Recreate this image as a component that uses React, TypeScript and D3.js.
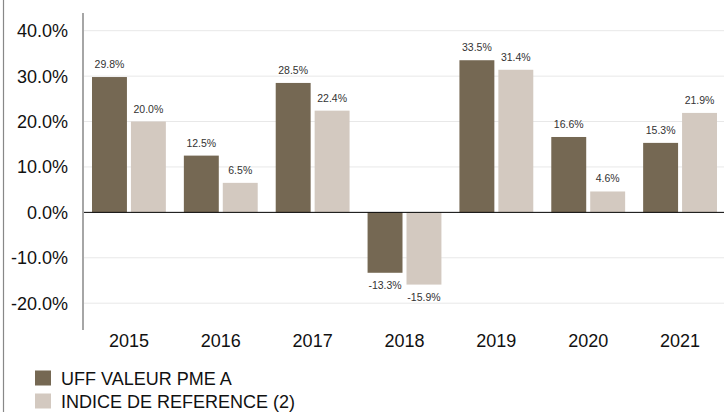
import React from "react";
import * as d3 from "d3";

const years = ["2015", "2016", "2017", "2018", "2019", "2020", "2021"];
const fundValues = [29.8, 12.5, 28.5, -13.3, 33.5, 16.6, 15.3];
const indexValues = [20.0, 6.5, 22.4, -15.9, 31.4, 4.6, 21.9];
const seriesNames = ["UFF VALEUR PME A", "INDICE DE REFERENCE (2)"];
const seriesColors = ["#756853", "#d3c9c0"];
const yTicks = [-20, -10, 0, 10, 20, 30, 40];

const W = 724;
const H = 412;
const FONT = "'Liberation Sans', Arial, sans-serif";

export default function App() {
  const y = d3.scaleLinear().domain([-25.9, 43.9]).range([330, 13]);
  const x0 = d3.scaleBand<string>().domain(years).range([83, 726]).padding(0);
  const bw = x0.bandwidth();
  const x1 = d3
    .scaleBand<string>()
    .domain(["a", "b"])
    .range([9, bw - 9])
    .paddingInner(4 / 39)
    .paddingOuter(0);
  const series = [fundValues, indexValues];
  const keys = ["a", "b"];
  const fmt = (v: number) => v.toFixed(1) + "%";

  return (
    <svg
      width={W}
      height={H}
      style={{ position: "absolute", left: 0, top: 0, display: "block", background: "#fff" }}
      fontFamily={FONT}
    >
      <line x1={3.5} x2={3.5} y1={0} y2={H} stroke="#888" strokeWidth={1.2} />
      {yTicks.map((t) =>
        t === 0 ? null : (
          <line key={"g" + t} x1={84} x2={W} y1={y(t)} y2={y(t)} stroke="#e8e8e8" strokeWidth={1} />
        )
      )}
      {yTicks.map((t) => (
        <text key={"t" + t} x={68} y={y(t) + 6.5} textAnchor="end" fontSize={18} fill="#111">
          {fmt(t)}
        </text>
      ))}
      {years.map((yr, i) => (
        <g key={yr} transform={`translate(${x0(yr)},0)`}>
          {series.map((vals, s) => {
            const v = vals[i];
            const bx = x1(keys[s])!;
            const top = y(Math.max(0, v));
            const h = Math.abs(y(v) - y(0));
            return (
              <g key={s}>
                <rect x={bx} y={top} width={x1.bandwidth()} height={h} fill={seriesColors[s]} />
                <text
                  x={bx + x1.bandwidth() / 2}
                  y={v >= 0 ? y(v) - 9 : y(v) + 16.5}
                  textAnchor="middle"
                  fontSize={10.5}
                  fill="#333"
                >
                  {fmt(v)}
                </text>
              </g>
            );
          })}
          <text x={bw / 2} y={347} textAnchor="middle" fontSize={18} fill="#111">
            {yr}
          </text>
        </g>
      ))}
      <line x1={84} x2={W} y1={y(0)} y2={y(0)} stroke="#000" strokeWidth={1} />
      <line x1={83} x2={83} y1={13} y2={330} stroke="#888" strokeWidth={1.5} />
      {seriesNames.map((n, i) => (
        <g key={n} transform={`translate(0,${i * 23})`}>
          <rect x={35} y={370.5} width={16} height={15} fill={seriesColors[i]} />
          <text x={61} y={385} fontSize={18} fill="#111">
            {n}
          </text>
        </g>
      ))}
    </svg>
  );
}
